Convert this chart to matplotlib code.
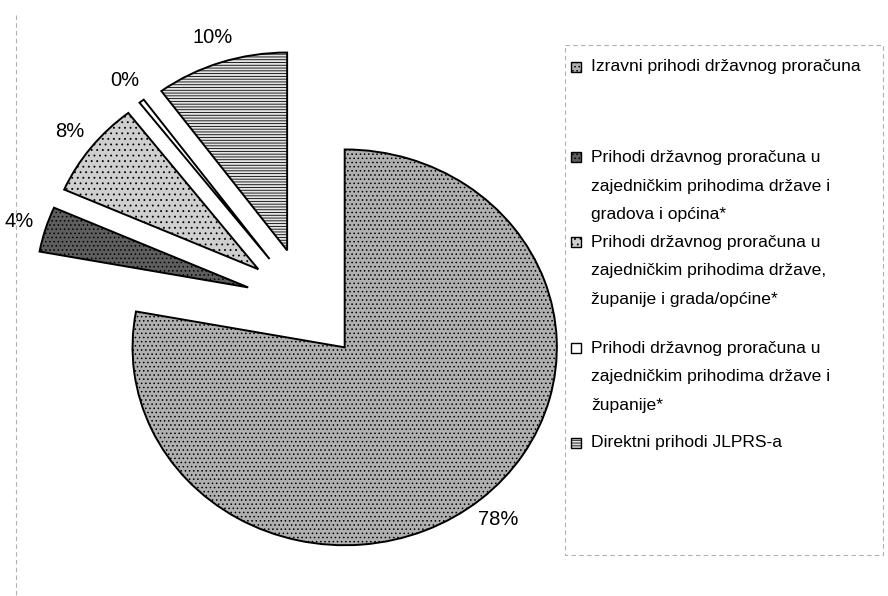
import matplotlib.pyplot as plt
from matplotlib.patches import Rectangle

plt.rcParams['font.family'] = ['Liberation Sans', 'DejaVu Sans']
plt.rcParams['hatch.linewidth'] = 0.6

# data
labels = [
    "Izravni prihodi državnog proračuna",
    "Prihodi državnog proračuna u\nzajedničkim prihodima države i\ngradova i općina*",
    "Prihodi državnog proračuna u\nzajedničkim prihodima države,\nžupanije i grada/općine*",
    "Prihodi državnog proračuna u\nzajedničkim prihodima države i\nžupanije*",
    "Direktni prihodi JLPRS-a",
]
shares = [77.9, 3.7, 7.9, 0.4, 10.1]

fills = ['#b0b0b0', '#5e5e5e', '#cfcfcf', 'white', '#e4e4e4']
hatches = ['....', '....', '...', None, '------']

W, H = 888, 596
R = 204
sx, sy = 1.04, 0.97  # the scan is slightly wider than tall

fig = plt.figure(figsize=(W / 100, H / 100), dpi=100)
ax = fig.add_axes([0, 0, 1, 1])

wedges, texts, pcts = ax.pie(
    shares, startangle=90, counterclock=False,
    explode=[0.285 * R] * len(shares), center=(306 / sx, 292 / sy), radius=R,
    colors=fills, autopct='%.0f%%', pctdistance=1.13,
    wedgeprops=dict(edgecolor='black', linewidth=1.4),
    textprops=dict(fontsize=14.5, color='black'),
)
for w, h in zip(wedges, hatches):
    if h:
        w.set_hatch(h)

ax.set_aspect('auto')
ax.set_xlim(0, W / sx)
ax.set_ylim(0, H / sy)
ax.axis('off')

# overlay in pixel units (origin top-left) for frame and legend
lax = fig.add_axes([0, 0, 1, 1])
lax.set_xlim(0, W)
lax.set_ylim(H, 0)
lax.axis('off')

lax.plot([16, 16], [15, H], color='#b0b0b0', lw=0.8, ls=(0, (4, 3)))
lax.add_patch(Rectangle((565, 45), 318, 510, fill=False,
                        edgecolor='#b0b0b0', lw=0.8, ls=(0, (4, 3))))

# legend built by hand to keep the uneven spacing of the original
marker_y = [67, 157, 242, 348, 443]
text_y = [67, 186, 271, 377, 443]
for lab, fc, h, my, ty in zip(labels, fills, hatches, marker_y, text_y):
    lax.add_patch(Rectangle((571, my - 5), 10, 10, facecolor=fc,
                            edgecolor='black', lw=1.0, hatch=h))
    lax.text(591, ty, lab, fontsize=12.6, va='center', ha='left',
             linespacing=2.15)

fig.savefig('out.png', dpi=100)
